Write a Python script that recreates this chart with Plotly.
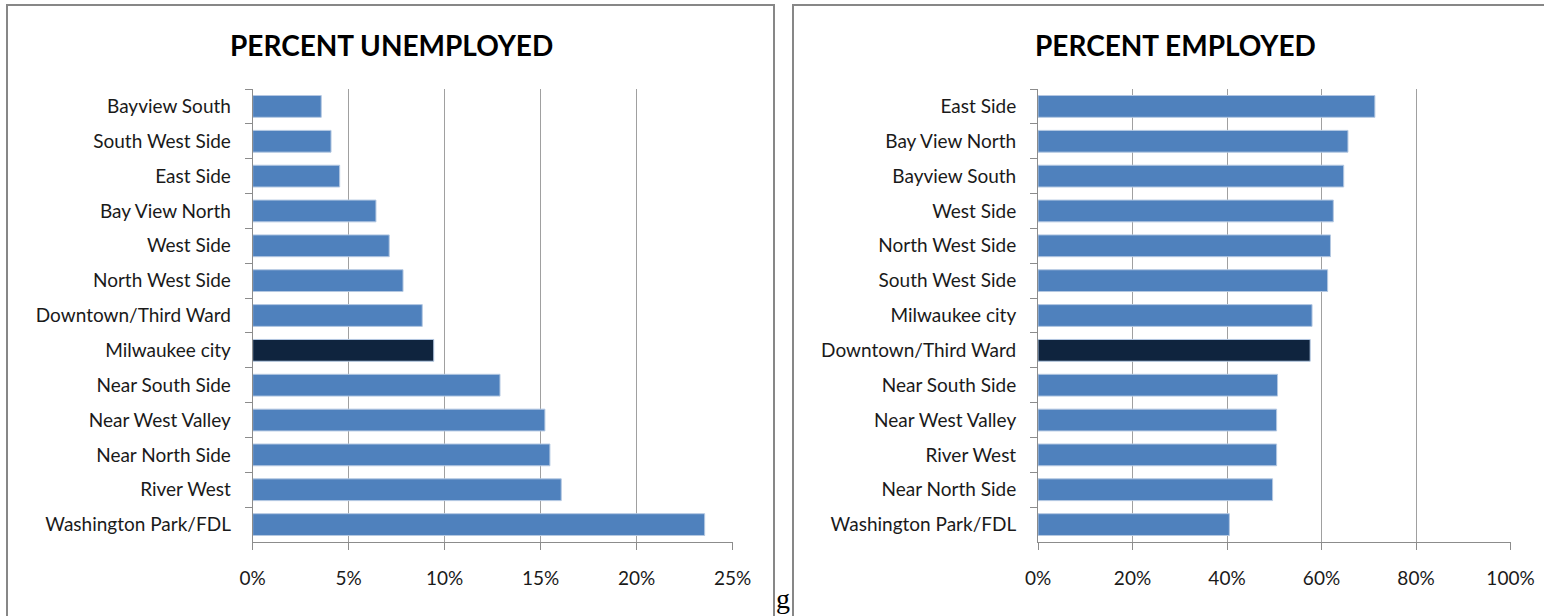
import plotly.graph_objects as go

W, H = 1544, 616

# ---- data ----
unemp_categories = ["Bayview South", "South West Side", "East Side", "Bay View North",
                    "West Side", "North West Side", "Downtown/Third Ward", "Milwaukee city",
                    "Near South Side", "Near West Valley", "Near North Side", "River West",
                    "Washington Park/FDL"]
unemp_values = [3.57, 4.08, 4.53, 6.42, 7.11, 7.83, 8.83, 9.43, 12.88, 15.22, 15.48, 16.07, 23.54]
unemp_highlight = "Milwaukee city"

emp_categories = ["East Side", "Bay View North", "Bayview South", "West Side",
                  "North West Side", "South West Side", "Milwaukee city", "Downtown/Third Ward",
                  "Near South Side", "Near West Valley", "River West", "Near North Side",
                  "Washington Park/FDL"]
emp_values = [71.3, 65.6, 64.7, 62.5, 61.9, 61.3, 58.0, 57.6, 50.7, 50.5, 50.5, 49.65, 40.5]
emp_highlight = "Downtown/Third Ward"

unemp_ticks = [0, 5, 10, 15, 20, 25]
emp_ticks = [0, 20, 40, 60, 80, 100]

# ---- style ----
BLUE = "#4F81BD"
DARK = "#0F243E"
GRID = "#A0A0A0"
AXIS = "#8C8C8C"
FONT = "Lato"
TXT = "#1a1a1a"

def px_x(x):
    return x / W

def px_y(y):
    return (H - y) / H

fig = go.Figure()

fig.add_trace(go.Bar(
    y=unemp_categories, x=unemp_values, orientation="h",
    marker=dict(color=[DARK if c == unemp_highlight else BLUE for c in unemp_categories],
                line=dict(color="#B4C8E2", width=1)),
    xaxis="x", yaxis="y", showlegend=False, hoverinfo="x+y"))

fig.add_trace(go.Bar(
    y=emp_categories, x=emp_values, orientation="h",
    marker=dict(color=[DARK if c == emp_highlight else BLUE for c in emp_categories],
                line=dict(color="#B4C8E2", width=1)),
    xaxis="x2", yaxis="y2", showlegend=False, hoverinfo="x+y"))

ydom = [px_y(542), px_y(89)]

common_x = dict(showgrid=True, gridcolor=GRID, gridwidth=1, showline=True, linecolor=AXIS,
                linewidth=1, ticks="outside", ticklen=7, tickcolor=AXIS,
                zeroline=False, tickfont=dict(family=FONT, size=19, color=TXT),
                ticklabelstandoff=12, fixedrange=True, automargin=False)
common_y = dict(showline=True, linecolor=AXIS, linewidth=1, ticks="outside", ticklen=7,
                tickcolor=AXIS, tickson="boundaries", autorange="reversed", showgrid=False,
                tickfont=dict(family=FONT, size=19, color=TXT), ticklabelstandoff=17,
                fixedrange=True, automargin=False)

fig.update_layout(
    width=W, height=H, autosize=False,
    margin=dict(l=0, r=0, t=0, b=0, pad=0),
    paper_bgcolor="white", plot_bgcolor="white",
    bargap=0.375,
    xaxis=dict(domain=[px_x(252.7), px_x(732.7)], range=[0, 25], tickmode="array",
               tickvals=unemp_ticks, ticktext=[f"{v}%" for v in unemp_ticks],
               anchor="y", **common_x),
    yaxis=dict(domain=ydom, anchor="x", **common_y),
    xaxis2=dict(domain=[px_x(1038), px_x(1510.5)], range=[0, 100], tickmode="array",
                tickvals=emp_ticks, ticktext=[f"{v}%" for v in emp_ticks],
                anchor="y2", **common_x),
    yaxis2=dict(domain=ydom, anchor="x2", **common_y),
    shapes=[
        dict(type="rect", xref="paper", yref="paper", x0=px_x(7), x1=px_x(774),
             y0=px_y(640), y1=px_y(5), line=dict(color="#878787", width=2)),
        dict(type="rect", xref="paper", yref="paper", x0=px_x(793), x1=px_x(1560),
             y0=px_y(640), y1=px_y(5), line=dict(color="#878787", width=2)),
    ],
    annotations=[
        dict(text="<b>PERCENT UNEMPLOYED</b>", xref="paper", yref="paper",
             x=px_x(391), y=px_y(45), xanchor="center", yanchor="middle", showarrow=False,
             font=dict(family=FONT, size=28, color="#000")),
        dict(text="<b>PERCENT EMPLOYED</b>", xref="paper", yref="paper",
             x=px_x(1175.5), y=px_y(45), xanchor="center", yanchor="middle", showarrow=False,
             font=dict(family=FONT, size=28, color="#000")),
        dict(text="g", xref="paper", yref="paper", x=px_x(783), y=px_y(598),
             xanchor="center", yanchor="middle", showarrow=False,
             font=dict(family="Liberation Serif", size=28, color="#000")),
    ],
)

fig.write_html(
    "out.html",
    config={"displayModeBar": False},
    post_script="document.body.style.margin='0';document.body.style.overflow='hidden';",
)
